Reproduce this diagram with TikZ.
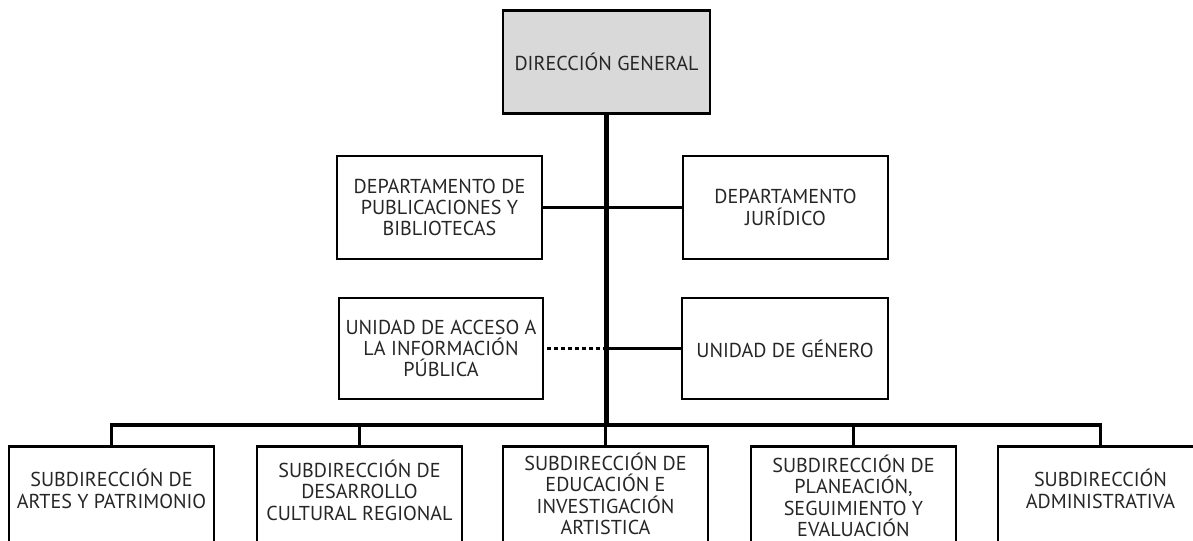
\documentclass[tikz,border=0pt]{standalone}
\usepackage{fontspec}
\setmainfont{PT Sans}
\definecolor{dggray}{HTML}{D9D9D9}
\definecolor{txt}{HTML}{262626}
\tikzset{
  box/.style={draw=black, line width=2.6bp, inner sep=0pt, align=center, text=txt, font=\fontsize{20.2}{21.5}\selectfont},
  bottombox/.style={draw=black, line width=2.6bp, inner sep=0pt, anchor=north, minimum width=205bp, minimum height=130bp},
  lbl/.style={inner sep=0pt, align=center, text=txt, font=\fontsize{20.2}{21.5}\selectfont},
  conn/.style={line width=3.5bp},
  trunk/.style={line width=4.5bp},
  dotconn/.style={line width=3.5bp, dash pattern=on 4bp off 3bp}
}
\begin{document}
\begin{tikzpicture}[x=1bp,y=-1bp]
\clip (0,0) rectangle (1193,541);
\fill[white] (0,0) rectangle (1193,541);
% top
\node[box, fill=dggray, minimum width=207bp, minimum height=103bp] (dg) at (606.5,62) {DIRECCIÓN GENERAL};
\node[box, minimum width=205bp, minimum height=103bp] (pub) at (439.5,207.5) {DEPARTAMENTO DE\\PUBLICACIONES Y\\BIBLIOTECAS};
\node[box, minimum width=205bp, minimum height=103bp] (jur) at (785.5,207.5) {DEPARTAMENTO\\JURÍDICO};
\node[box, minimum width=204bp, minimum height=101bp] (uai) at (441,348.5) {UNIDAD DE ACCESO A\\LA INFORMACIÓN\\PÚBLICA};
\node[box, minimum width=206bp, minimum height=101bp] (gen) at (785,348.5) {UNIDAD DE GÉNERO};
% bus coordinates
\coordinate (busL) at (111.5,425);
\coordinate (busR) at (1100.5,425);
\coordinate (busM) at (606.5,425);
% bottom boxes
\node[bottombox] (b1) at (111.5,445) {};
\node[bottombox] (b2) at (359.5,445) {};
\node[bottombox] (b3) at (605.5,445) {};
\node[bottombox] (b4) at (853.5,445) {};
\node[bottombox] (b5) at (1100.5,445) {};
\node[lbl] (t1) at (111.5,489) {SUBDIRECCIÓN DE\\ARTES Y PATRIMONIO};
\node[lbl] (t2) at (359.5,490) {SUBDIRECCIÓN DE\\DESARROLLO\\CULTURAL REGIONAL};
\node[lbl] (t3) at (605.5,494) {SUBDIRECCIÓN DE\\EDUCACIÓN E\\INVESTIGACIÓN\\ARTISTICA};
\node[lbl] (t4) at (853.5,496) {SUBDIRECCIÓN DE\\PLANEACIÓN,\\SEGUIMIENTO Y\\EVALUACIÓN};
\node[lbl] (t5) at (1100.5,489) {SUBDIRECCIÓN\\ADMINISTRATIVA};
% connectors
\draw[trunk] (dg.south) -- (busM);
\draw[conn] (pub.east) -- (pub.east -| dg.south);
\draw[conn] (jur.west) -- (jur.west -| dg.south);
\draw[conn] (gen.west) -- (gen.west -| dg.south);
\draw[dotconn] ([xshift=3bp]uai.east) -- ([xshift=-3bp]uai.east -| dg.south);
\draw[conn, line cap=rect] (busL) -- (busR);
\draw[conn] (busL) -- (b1.north);
\draw[conn] (b2.north |- busL) -- (b2.north);
\draw[conn] (b3.north |- busL) -- (b3.north);
\draw[conn] (b4.north |- busL) -- (b4.north);
\draw[conn] (busR) -- (b5.north);
\end{tikzpicture}
\end{document}
